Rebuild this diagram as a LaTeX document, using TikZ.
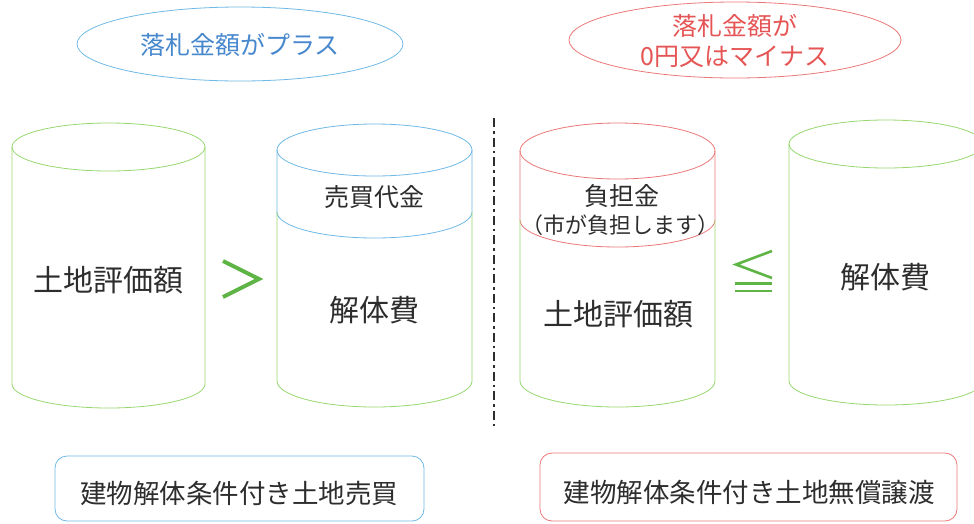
\documentclass[tikz,border=0pt]{standalone}
\usepackage{fontspec}
\setmainfont{Noto Sans CJK JP}
\newfontfamily\jp{Noto Sans CJK JP}
\definecolor{cylgreen}{RGB}{150,215,110}
\definecolor{symgreen}{RGB}{95,180,70}
\definecolor{skyline}{RGB}{110,185,230}
\definecolor{skytext}{RGB}{70,135,205}
\definecolor{redline}{RGB}{235,120,120}
\definecolor{redtext}{RGB}{230,85,85}
\definecolor{inkgray}{RGB}{45,45,45}
\tikzset{
  cylline/.style={draw=cylgreen, line width=0.8pt},
  blueline/.style={draw=skyline, line width=0.8pt},
  redl/.style={draw=redline, line width=0.8pt},
  bigtext/.style={text=inkgray, font=\jp\fontsize{30}{34}\selectfont, inner sep=0pt},
  midtext/.style={text=inkgray, font=\jp\fontsize{25}{29}\selectfont, inner sep=0pt},
  smalltext/.style={text=inkgray, font=\jp\fontsize{22}{26}\selectfont, inner sep=0pt},
  headtext/.style={font=\jp\fontsize{25}{30}\selectfont, align=center, inner sep=0pt},
  boxtext/.style={text=inkgray, font=\jp\fontsize{26.5}{30}\selectfont, inner sep=0pt},
}
\begin{document}
\begin{tikzpicture}[x=1pt,y=-1pt]
\useasboundingbox (0,0) rectangle (974,523);
\clip (0,0) rectangle (974,523);

% header ellipses
\draw[blueline] (240,44) ellipse [x radius=163, y radius=37];
\node[headtext, text=skytext] (hl) at (240,45) {落札金額がプラス};
\draw[redl] (735,40) ellipse [x radius=166, y radius=38];
\node[headtext, text=redtext] (hr) at (735,41) {落札金額が\\0円又はマイナス};

% cylinder 1
\draw[cylline] (108.5,147) ellipse [x radius=96.5, y radius=24];
\draw[cylline] (12,147) -- (12,384) arc[start angle=180, end angle=0, x radius=96.5, y radius=24] -- (205,147);
\node[bigtext] (c1) at (108,280) {土地評価額};

% greater-than
\draw[symgreen, line width=4pt, line join=miter] (223,261) -- (259,279) -- (223,297);

% cylinder 2
\draw[blueline] (374.5,150) ellipse [x radius=97.5, y radius=26];
\draw[blueline] (277,150) -- (277,212) arc[start angle=180, end angle=0, x radius=97.5, y radius=26] -- (472,150);
\draw[cylline] (277,212) -- (277,381) arc[start angle=180, end angle=0, x radius=97.5, y radius=26] -- (472,212);
\node[midtext] (c2a) at (374,197) {売買代金};
\node[bigtext] (c2b) at (374,310) {解体費};

% divider
\draw[inkgray, line width=2.2pt, dash pattern=on 9pt off 4pt on 2.5pt off 4pt] (494,118) -- (494,426);

% cylinder 3
\draw[redl] (617.5,151) ellipse [x radius=97.5, y radius=28];
\draw[redl] (520,151) -- (520,220) arc[start angle=180, end angle=0, x radius=97.5, y radius=27] -- (715,151);
\draw[cylline] (520,220) -- (520,381) arc[start angle=180, end angle=0, x radius=97.5, y radius=26] -- (715,220);
\node[midtext] (c3a) at (622,196) {負担金};
\node[smalltext] (c3b) at (620,225) {（市が負担します）};
\node[bigtext] (c3c) at (618,314) {土地評価額};

% less-or-equal
\draw[symgreen, line width=2.6pt, line join=miter] (772,251) -- (736,264.5) -- (772,278);
\draw[symgreen, line width=2.4pt] (735,283.5) -- (772,283.5);
\draw[symgreen, line width=2.4pt] (735,291) -- (772,291);

% cylinder 4
\draw[cylline] (886,144) ellipse [x radius=97, y radius=24];
\draw[cylline] (789,144) -- (789,381) arc[start angle=180, end angle=0, x radius=97, y radius=24] -- (983,144);
\node[bigtext] (c4) at (885,277) {解体費};

% bottom boxes
\draw[blueline, rounded corners=12pt] (55,456) rectangle (424,521);
\node[boxtext] (b1) at (239,493) {建物解体条件付き土地売買};
\draw[redl, rounded corners=12pt] (540,453) rectangle (957,521);
\node[boxtext] (b2) at (749,492) {建物解体条件付き土地無償譲渡};
\end{tikzpicture}
\end{document}
